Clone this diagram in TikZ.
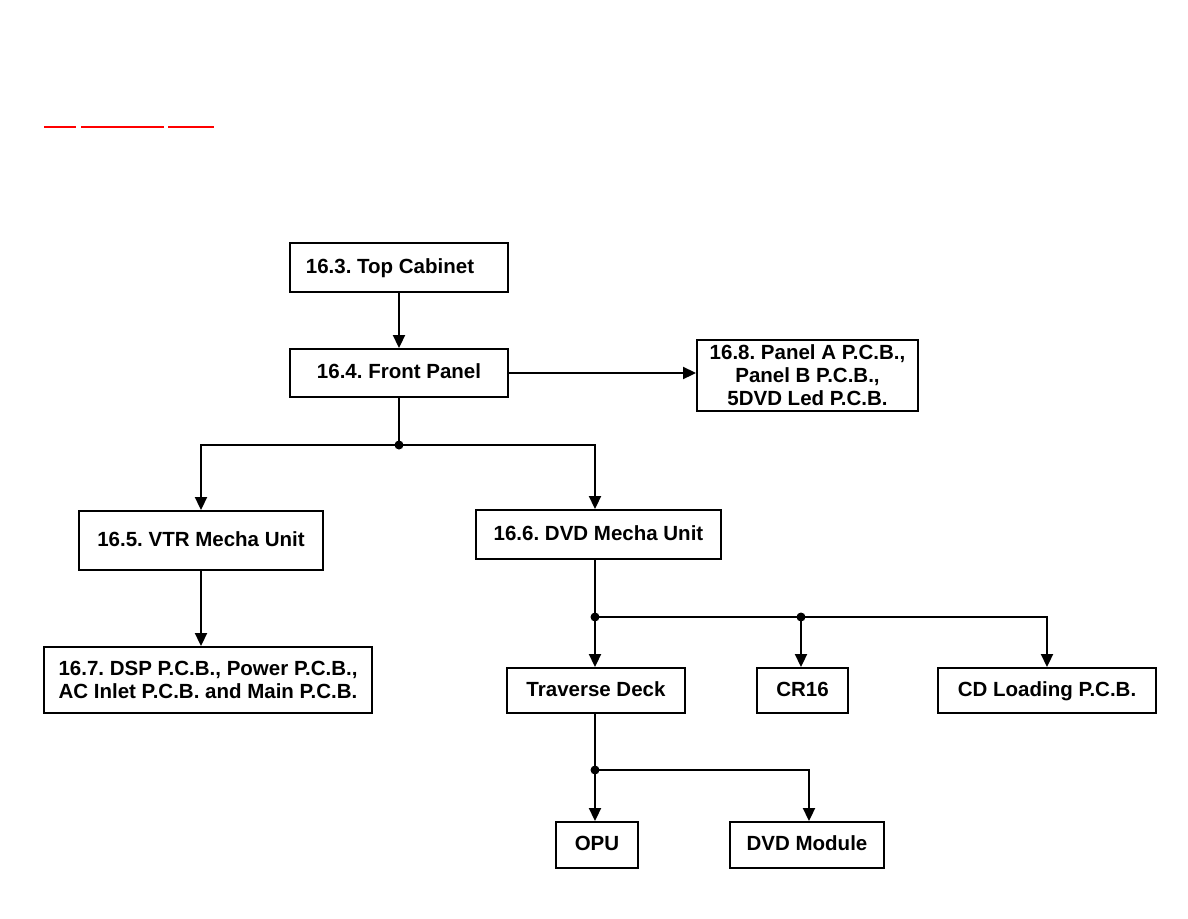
\documentclass[tikz,border=0pt]{standalone}
\usepackage{fontspec}
\setmainfont{Liberation Sans}
\usetikzlibrary{arrows.meta,positioning}
\frenchspacing

\begin{document}
\begin{tikzpicture}[x=1pt, y=-1pt, line width=1.9pt,
  box/.style={rectangle, draw=black, inner sep=0pt, align=center, font=\fontsize{20.5}{23}\selectfont\bfseries},
  onerow/.style={text height=15pt, text depth=4pt},
  arr/.style={-{Triangle[length=13pt,width=12pt]}},
  dot/.style={circle, fill=black, inner sep=0pt, minimum size=9pt}]
\useasboundingbox (0,0) rectangle (1188,918);
% link underlines
\draw[red, line width=1.2pt] (44,127) -- (76,127);
\draw[red, line width=1.2pt] (81,127) -- (164,127);
\draw[red, line width=1.2pt] (168,127) -- (214,127);
% boxes
\node[box, onerow, minimum width=218pt, minimum height=49pt] (top) at (399,267.5) {16.3. Top Cabinet\hspace*{18pt}};
\node[box, onerow, minimum width=218pt, minimum height=48pt] (front) at (399,373) {16.4. Front Panel};
\node[box, minimum width=221pt, minimum height=71pt] (panel) at (807.5,375.5) {16.8. Panel A P.C.B.,\\Panel B P.C.B.,\\5DVD Led P.C.B.};
\node[box, onerow, minimum width=244pt, minimum height=59pt] (vtr) at (201,540.5) {16.5. VTR Mecha Unit};
\node[box, minimum width=328pt, minimum height=66pt] (dsp) at (208,680) {16.7. DSP P.C.B., Power P.C.B.,\\AC Inlet P.C.B. and Main P.C.B.};
\node[box, onerow, minimum width=245pt, minimum height=49pt] (dvd) at (598.5,534.5) {16.6. DVD Mecha Unit};
\node[box, onerow, minimum width=178pt, minimum height=45pt] (trav) at (596,690.5) {Traverse Deck};
\node[box, onerow, minimum width=91pt, minimum height=45pt] (cr) at (802.5,690.5) {CR16};
\node[box, onerow, minimum width=218pt, minimum height=45pt] (cdl) at (1047,690.5) {CD Loading P.C.B.};
\node[box, onerow, minimum width=82pt, minimum height=46pt] (opu) at (597,845) {OPU};
\node[box, onerow, minimum width=154pt, minimum height=46pt] (dmod) at (807,845) {DVD Module};
% junctions
\node[dot] (j1) at (399,445) {};
\node[dot] (j2) at (595,617) {};
\node[dot] (j3) at (801,617) {};
\node[dot] (j4) at (595,770) {};
% connectors
\draw[arr] (top.south) -- (front.north);
\draw[arr] (front.east) -- (front.east -| panel.west);
\draw (front.south) -- (j1.center);
\draw[arr] (j1.center) -| (vtr.north);
\draw[arr] (j1.center) -| (dvd.north -| j2);
\draw[arr] (vtr.south) -- (dsp.north -| vtr.south);
\draw (dvd.south -| j2) -- (j2.center);
\draw[arr] (j2.center) -- (trav.north -| j2);
\draw (j2.center) -- (j3.center);
\draw[arr] (j3.center) -- (cr.north -| j3);
\draw[arr] (j3.center) -| (cdl.north);
\draw (trav.south -| j4) -- (j4.center);
\draw[arr] (j4.center) -- (opu.north -| j4);
\draw[arr] (j4.center) -| ([xshift=2pt]dmod.north);
\end{tikzpicture}
\end{document}
